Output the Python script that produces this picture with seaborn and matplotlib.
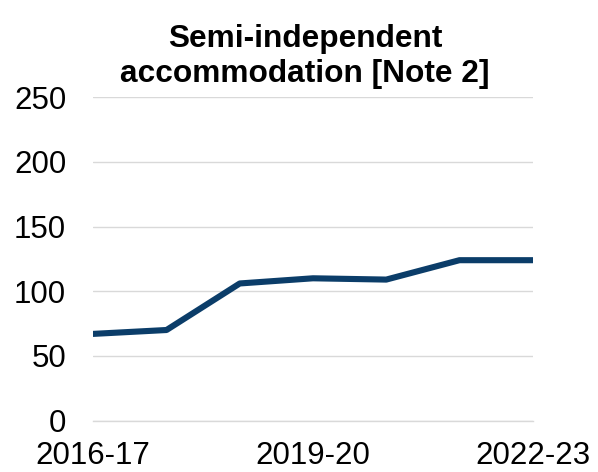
import pandas as pd
import seaborn as sns
import matplotlib
matplotlib.use("Agg")
import matplotlib.pyplot as plt

# Veriler
years = ["2016-17", "2017-18", "2018-19", "2019-20", "2020-21", "2021-22", "2022-23"]
counts = [67, 70, 106, 110, 109, 124, 124]
shown_labels = ["2016-17", "2019-20", "2022-23"]

df = pd.DataFrame({"year": years, "count": counts})
df["pos"] = range(len(years))

sns.set_style("white")
plt.rcParams["font.family"] = ["Liberation Sans", "DejaVu Sans"]

fig = plt.figure(figsize=(5.98, 4.72), dpi=100)
ax = fig.add_axes([93.3 / 598, 1 - 420.5 / 472, (532.7 - 93.3) / 598, (420.5 - 97.3) / 472])

sns.lineplot(data=df, x="pos", y="count", color="#0B3D69", linewidth=4.4,
             solid_capstyle="round", ax=ax)

ax.set_xlim(0, len(years) - 1)
ax.set_ylim(0, 250)
ax.set_yticks([0, 50, 100, 150, 200, 250])
ax.set_xticks([years.index(y) for y in shown_labels])
ax.set_xticklabels(shown_labels)
ax.set_xlabel("")
ax.set_ylabel("")

ax.grid(axis="y", color="#D9D9D9", linewidth=1.0)
ax.set_axisbelow(True)
for side in ["top", "right", "left"]:
    ax.spines[side].set_visible(False)
ax.spines["bottom"].set_color("#D9D9D9")
ax.spines["bottom"].set_linewidth(1.0)

ax.tick_params(axis="y", length=0, pad=19.5, labelsize=22.5, labelcolor="black")
ax.tick_params(axis="x", length=6.2, width=1.0, color="#D9D9D9", pad=8.5,
               labelsize=22.5, labelcolor="black")

ax.set_title("Semi-independent\naccommodation [Note 2]", fontsize=22.8,
             fontweight="bold", pad=11, x=0.482, color="black")

plt.savefig("out.png", dpi=100)
